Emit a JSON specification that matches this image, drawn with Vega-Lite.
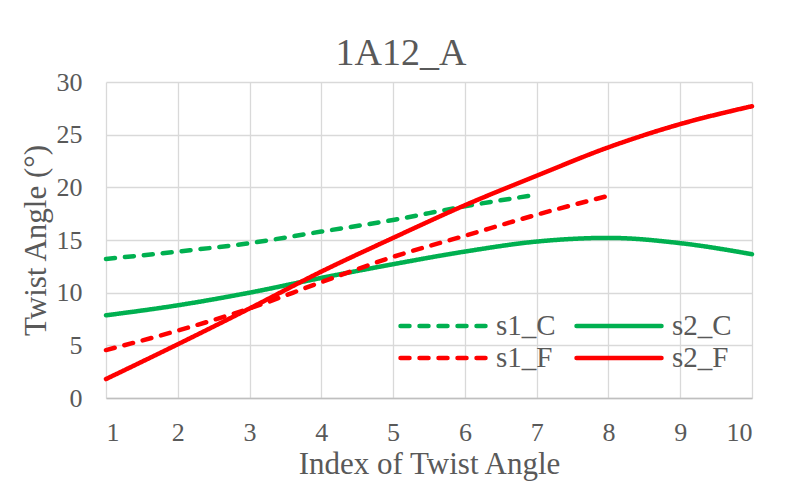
{
  "$schema": "https://vega.github.io/schema/vega-lite/v6.json",
  "width": 646,
  "height": 316,
  "autosize": {"type": "none"},
  "padding": {"left": 106, "top": 82, "right": 48, "bottom": 94},
  "background": "white",
  "title": {
    "text": "1A12_A",
    "anchor": "middle",
    "frame": "group",
    "dx": -28,
    "offset": -4,
    "font": "Liberation Serif",
    "fontSize": 38,
    "fontWeight": "normal",
    "color": "#595959"
  },
  "data": {
    "values": [
      {"series": "s1_C", "index": 1, "angle": 13.2},
      {"series": "s1_C", "index": 2, "angle": 13.9},
      {"series": "s1_C", "index": 3, "angle": 14.7},
      {"series": "s1_C", "index": 4, "angle": 15.8},
      {"series": "s1_C", "index": 5, "angle": 16.9},
      {"series": "s1_C", "index": 6, "angle": 18.2},
      {"series": "s1_C", "index": 7, "angle": 19.3},
      {"series": "s2_C", "index": 1, "angle": 7.85},
      {"series": "s2_C", "index": 2, "angle": 8.8},
      {"series": "s2_C", "index": 3, "angle": 10.0},
      {"series": "s2_C", "index": 4, "angle": 11.4},
      {"series": "s2_C", "index": 5, "angle": 12.7},
      {"series": "s2_C", "index": 6, "angle": 13.9},
      {"series": "s2_C", "index": 7, "angle": 14.85},
      {"series": "s2_C", "index": 8, "angle": 15.2},
      {"series": "s2_C", "index": 9, "angle": 14.7},
      {"series": "s2_C", "index": 10, "angle": 13.65},
      {"series": "s1_F", "index": 1, "angle": 4.55},
      {"series": "s1_F", "index": 2, "angle": 6.4},
      {"series": "s1_F", "index": 3, "angle": 8.5},
      {"series": "s1_F", "index": 4, "angle": 11.0},
      {"series": "s1_F", "index": 5, "angle": 13.4},
      {"series": "s1_F", "index": 6, "angle": 15.4},
      {"series": "s1_F", "index": 7, "angle": 17.4},
      {"series": "s1_F", "index": 8, "angle": 19.2},
      {"series": "s2_F", "index": 1, "angle": 1.8},
      {"series": "s2_F", "index": 2, "angle": 5.1},
      {"series": "s2_F", "index": 3, "angle": 8.5},
      {"series": "s2_F", "index": 4, "angle": 12.0},
      {"series": "s2_F", "index": 5, "angle": 15.2},
      {"series": "s2_F", "index": 6, "angle": 18.3},
      {"series": "s2_F", "index": 7, "angle": 21.1},
      {"series": "s2_F", "index": 8, "angle": 23.8},
      {"series": "s2_F", "index": 9, "angle": 26.0},
      {"series": "s2_F", "index": 10, "angle": 27.7}
    ]
  },
  "mark": {
    "type": "line",
    "interpolate": "monotone",
    "strokeWidth": 4.5,
    "strokeCap": "round"
  },
  "encoding": {
    "x": {
      "field": "index",
      "type": "quantitative",
      "title": "Index of Twist Angle",
      "scale": {"domain": [1, 10], "nice": false, "zero": false},
      "axis": {"values": [1, 2, 3, 4, 5, 6, 7, 8, 9, 10], "labelPadding": 21, "titlePadding": 4}
    },
    "y": {
      "field": "angle",
      "type": "quantitative",
      "title": "Twist Angle (°)",
      "scale": {"domain": [0, 30], "nice": false},
      "axis": {"values": [0, 5, 10, 15, 20, 25, 30], "labelPadding": 24, "titlePadding": 4, "domain": false}
    },
    "color": {
      "field": "series",
      "type": "nominal",
      "scale": {
        "domain": ["s1_C", "s1_F", "s2_C", "s2_F"],
        "range": ["#00B050", "#FF0000", "#00B050", "#FF0000"]
      },
      "legend": {
        "title": null,
        "orient": "none",
        "legendX": 292,
        "legendY": 229,
        "columns": 2,
        "columnPadding": 18,
        "rowPadding": 2,
        "clipHeight": 30,
        "symbolType": "stroke",
        "symbolSize": 7225,
        "symbolStrokeWidth": 4.5,
        "symbolOffset": 0,
        "labelOffset": 8,
        "padding": 0,
        "labelFont": "Liberation Serif",
        "labelFontSize": 29,
        "labelColor": "#595959",
        "labelLimit": 200,
        "encode": {"symbols": {"update": {"strokeCap": {"value": "round"}}}}
      }
    },
    "strokeDash": {
      "field": "series",
      "type": "nominal",
      "scale": {
        "domain": ["s1_C", "s1_F", "s2_C", "s2_F"],
        "range": [[9, 10], [9, 10], [1, 0], [1, 0]]
      },
      "legend": {
        "title": null,
        "orient": "none",
        "legendX": 292,
        "legendY": 229,
        "columns": 2,
        "columnPadding": 18,
        "rowPadding": 2,
        "clipHeight": 30,
        "symbolType": "stroke",
        "symbolSize": 7225,
        "symbolStrokeWidth": 4.5,
        "symbolOffset": 0,
        "labelOffset": 8,
        "padding": 0,
        "labelFont": "Liberation Serif",
        "labelFontSize": 29,
        "labelColor": "#595959",
        "labelLimit": 200
      }
    }
  },
  "config": {
    "view": {"stroke": null},
    "axis": {
      "labelFont": "Liberation Serif",
      "labelFontSize": 26,
      "labelColor": "#595959",
      "titleFont": "Liberation Serif",
      "titleFontSize": 31,
      "titleFontWeight": "normal",
      "titleColor": "#595959",
      "gridColor": "#D9D9D9",
      "gridWidth": 1.3,
      "domainColor": "#BFBFBF",
      "domainWidth": 1.5,
      "ticks": false,
      "tickSize": 0
    }
  }
}
